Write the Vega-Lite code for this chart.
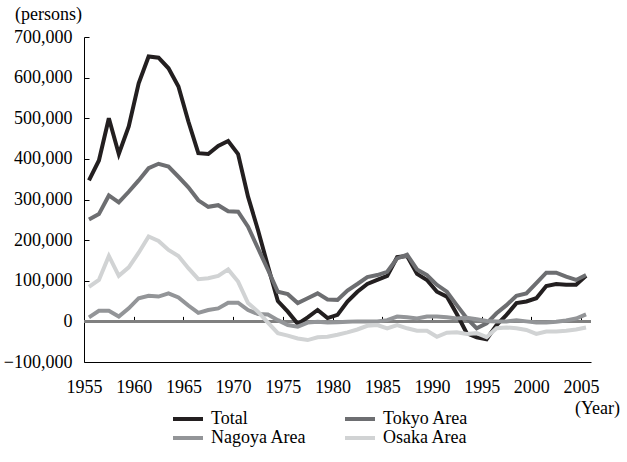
{
  "$schema": "https://vega.github.io/schema/vega-lite/v6.json",
  "width": 507,
  "height": 325,
  "autosize": {"type": "none"},
  "padding": {"left": 84, "top": 37, "right": 36, "bottom": 100},
  "config": {
    "view": {"stroke": null},
    "font": "Liberation Serif, Times New Roman, serif",
    "axis": {"labelFont": "Liberation Serif, Times New Roman, serif", "titleFont": "Liberation Serif, Times New Roman, serif", "labelColor": "#000", "titleColor": "#000", "labelFontSize": 18, "titleFontSize": 18, "titleFontWeight": "normal", "grid": false},
    "legend": {"labelFont": "Liberation Serif, Times New Roman, serif", "labelFontSize": 18, "labelColor": "#000"}
  },
  "data": {"values": [
    {"year":1955,"area":"Total","value":347000},{"year":1956,"area":"Total","value":396000},{"year":1957,"area":"Total","value":500000},{"year":1958,"area":"Total","value":412000},{"year":1959,"area":"Total","value":480000},{"year":1960,"area":"Total","value":586000},{"year":1961,"area":"Total","value":652000},{"year":1962,"area":"Total","value":649000},{"year":1963,"area":"Total","value":623000},{"year":1964,"area":"Total","value":578000},{"year":1965,"area":"Total","value":492000},{"year":1966,"area":"Total","value":414000},{"year":1967,"area":"Total","value":412000},{"year":1968,"area":"Total","value":432000},{"year":1969,"area":"Total","value":444000},{"year":1970,"area":"Total","value":412000},{"year":1971,"area":"Total","value":307000},{"year":1972,"area":"Total","value":225000},{"year":1973,"area":"Total","value":136000},{"year":1974,"area":"Total","value":50000},{"year":1975,"area":"Total","value":24000},{"year":1976,"area":"Total","value":-6000},{"year":1977,"area":"Total","value":10000},{"year":1978,"area":"Total","value":28000},{"year":1979,"area":"Total","value":8000},{"year":1980,"area":"Total","value":16000},{"year":1981,"area":"Total","value":49000},{"year":1982,"area":"Total","value":73000},{"year":1983,"area":"Total","value":92000},{"year":1984,"area":"Total","value":102000},{"year":1985,"area":"Total","value":112000},{"year":1986,"area":"Total","value":158000},{"year":1987,"area":"Total","value":161000},{"year":1988,"area":"Total","value":117000},{"year":1989,"area":"Total","value":102000},{"year":1990,"area":"Total","value":73000},{"year":1991,"area":"Total","value":61000},{"year":1992,"area":"Total","value":18000},{"year":1993,"area":"Total","value":-29000},{"year":1994,"area":"Total","value":-39000},{"year":1995,"area":"Total","value":-44000},{"year":1996,"area":"Total","value":-9000},{"year":1997,"area":"Total","value":16000},{"year":1998,"area":"Total","value":45000},{"year":1999,"area":"Total","value":49000},{"year":2000,"area":"Total","value":57000},{"year":2001,"area":"Total","value":87000},{"year":2002,"area":"Total","value":92000},{"year":2003,"area":"Total","value":90000},{"year":2004,"area":"Total","value":90000},{"year":2005,"area":"Total","value":112000},
    {"year":1955,"area":"Tokyo Area","value":251000},{"year":1956,"area":"Tokyo Area","value":264000},{"year":1957,"area":"Tokyo Area","value":310000},{"year":1958,"area":"Tokyo Area","value":293000},{"year":1959,"area":"Tokyo Area","value":319000},{"year":1960,"area":"Tokyo Area","value":347000},{"year":1961,"area":"Tokyo Area","value":377000},{"year":1962,"area":"Tokyo Area","value":388000},{"year":1963,"area":"Tokyo Area","value":381000},{"year":1964,"area":"Tokyo Area","value":356000},{"year":1965,"area":"Tokyo Area","value":330000},{"year":1966,"area":"Tokyo Area","value":298000},{"year":1967,"area":"Tokyo Area","value":282000},{"year":1968,"area":"Tokyo Area","value":286000},{"year":1969,"area":"Tokyo Area","value":271000},{"year":1970,"area":"Tokyo Area","value":270000},{"year":1971,"area":"Tokyo Area","value":233000},{"year":1972,"area":"Tokyo Area","value":180000},{"year":1973,"area":"Tokyo Area","value":127000},{"year":1974,"area":"Tokyo Area","value":73000},{"year":1975,"area":"Tokyo Area","value":67000},{"year":1976,"area":"Tokyo Area","value":45000},{"year":1977,"area":"Tokyo Area","value":57000},{"year":1978,"area":"Tokyo Area","value":69000},{"year":1979,"area":"Tokyo Area","value":54000},{"year":1980,"area":"Tokyo Area","value":53000},{"year":1981,"area":"Tokyo Area","value":76000},{"year":1982,"area":"Tokyo Area","value":92000},{"year":1983,"area":"Tokyo Area","value":109000},{"year":1984,"area":"Tokyo Area","value":114000},{"year":1985,"area":"Tokyo Area","value":122000},{"year":1986,"area":"Tokyo Area","value":155000},{"year":1987,"area":"Tokyo Area","value":164000},{"year":1988,"area":"Tokyo Area","value":128000},{"year":1989,"area":"Tokyo Area","value":114000},{"year":1990,"area":"Tokyo Area","value":90000},{"year":1991,"area":"Tokyo Area","value":73000},{"year":1992,"area":"Tokyo Area","value":40000},{"year":1993,"area":"Tokyo Area","value":8000},{"year":1994,"area":"Tokyo Area","value":-17000},{"year":1995,"area":"Tokyo Area","value":-5000},{"year":1996,"area":"Tokyo Area","value":20000},{"year":1997,"area":"Tokyo Area","value":40000},{"year":1998,"area":"Tokyo Area","value":63000},{"year":1999,"area":"Tokyo Area","value":69000},{"year":2000,"area":"Tokyo Area","value":94000},{"year":2001,"area":"Tokyo Area","value":120000},{"year":2002,"area":"Tokyo Area","value":120000},{"year":2003,"area":"Tokyo Area","value":110000},{"year":2004,"area":"Tokyo Area","value":102000},{"year":2005,"area":"Tokyo Area","value":114000},
    {"year":1955,"area":"Nagoya Area","value":10000},{"year":1956,"area":"Nagoya Area","value":26000},{"year":1957,"area":"Nagoya Area","value":26000},{"year":1958,"area":"Nagoya Area","value":12000},{"year":1959,"area":"Nagoya Area","value":32000},{"year":1960,"area":"Nagoya Area","value":57000},{"year":1961,"area":"Nagoya Area","value":63000},{"year":1962,"area":"Nagoya Area","value":61000},{"year":1963,"area":"Nagoya Area","value":69000},{"year":1964,"area":"Nagoya Area","value":59000},{"year":1965,"area":"Nagoya Area","value":39000},{"year":1966,"area":"Nagoya Area","value":21000},{"year":1967,"area":"Nagoya Area","value":28000},{"year":1968,"area":"Nagoya Area","value":32000},{"year":1969,"area":"Nagoya Area","value":46000},{"year":1970,"area":"Nagoya Area","value":46000},{"year":1971,"area":"Nagoya Area","value":28000},{"year":1972,"area":"Nagoya Area","value":18000},{"year":1973,"area":"Nagoya Area","value":17000},{"year":1974,"area":"Nagoya Area","value":3000},{"year":1975,"area":"Nagoya Area","value":-9000},{"year":1976,"area":"Nagoya Area","value":-13000},{"year":1977,"area":"Nagoya Area","value":-3000},{"year":1978,"area":"Nagoya Area","value":-1000},{"year":1979,"area":"Nagoya Area","value":-3000},{"year":1980,"area":"Nagoya Area","value":-2000},{"year":1981,"area":"Nagoya Area","value":-1000},{"year":1982,"area":"Nagoya Area","value":0},{"year":1983,"area":"Nagoya Area","value":0},{"year":1984,"area":"Nagoya Area","value":0},{"year":1985,"area":"Nagoya Area","value":3000},{"year":1986,"area":"Nagoya Area","value":12000},{"year":1987,"area":"Nagoya Area","value":10000},{"year":1988,"area":"Nagoya Area","value":7000},{"year":1989,"area":"Nagoya Area","value":12000},{"year":1990,"area":"Nagoya Area","value":12000},{"year":1991,"area":"Nagoya Area","value":10000},{"year":1992,"area":"Nagoya Area","value":7000},{"year":1993,"area":"Nagoya Area","value":9000},{"year":1994,"area":"Nagoya Area","value":5000},{"year":1995,"area":"Nagoya Area","value":1000},{"year":1996,"area":"Nagoya Area","value":0},{"year":1997,"area":"Nagoya Area","value":0},{"year":1998,"area":"Nagoya Area","value":3000},{"year":1999,"area":"Nagoya Area","value":0},{"year":2000,"area":"Nagoya Area","value":-3000},{"year":2001,"area":"Nagoya Area","value":-3000},{"year":2002,"area":"Nagoya Area","value":-1000},{"year":2003,"area":"Nagoya Area","value":2000},{"year":2004,"area":"Nagoya Area","value":7000},{"year":2005,"area":"Nagoya Area","value":17000},
    {"year":1955,"area":"Osaka Area","value":85000},{"year":1956,"area":"Osaka Area","value":102000},{"year":1957,"area":"Osaka Area","value":161000},{"year":1958,"area":"Osaka Area","value":112000},{"year":1959,"area":"Osaka Area","value":133000},{"year":1960,"area":"Osaka Area","value":169000},{"year":1961,"area":"Osaka Area","value":209000},{"year":1962,"area":"Osaka Area","value":198000},{"year":1963,"area":"Osaka Area","value":176000},{"year":1964,"area":"Osaka Area","value":161000},{"year":1965,"area":"Osaka Area","value":131000},{"year":1966,"area":"Osaka Area","value":104000},{"year":1967,"area":"Osaka Area","value":106000},{"year":1968,"area":"Osaka Area","value":112000},{"year":1969,"area":"Osaka Area","value":128000},{"year":1970,"area":"Osaka Area","value":98000},{"year":1971,"area":"Osaka Area","value":45000},{"year":1972,"area":"Osaka Area","value":24000},{"year":1973,"area":"Osaka Area","value":-3000},{"year":1974,"area":"Osaka Area","value":-29000},{"year":1975,"area":"Osaka Area","value":-35000},{"year":1976,"area":"Osaka Area","value":-42000},{"year":1977,"area":"Osaka Area","value":-46000},{"year":1978,"area":"Osaka Area","value":-39000},{"year":1979,"area":"Osaka Area","value":-38000},{"year":1980,"area":"Osaka Area","value":-33000},{"year":1981,"area":"Osaka Area","value":-27000},{"year":1982,"area":"Osaka Area","value":-20000},{"year":1983,"area":"Osaka Area","value":-11000},{"year":1984,"area":"Osaka Area","value":-9000},{"year":1985,"area":"Osaka Area","value":-17000},{"year":1986,"area":"Osaka Area","value":-9000},{"year":1987,"area":"Osaka Area","value":-17000},{"year":1988,"area":"Osaka Area","value":-23000},{"year":1989,"area":"Osaka Area","value":-23000},{"year":1990,"area":"Osaka Area","value":-38000},{"year":1991,"area":"Osaka Area","value":-28000},{"year":1992,"area":"Osaka Area","value":-27000},{"year":1993,"area":"Osaka Area","value":-31000},{"year":1994,"area":"Osaka Area","value":-29000},{"year":1995,"area":"Osaka Area","value":-39000},{"year":1996,"area":"Osaka Area","value":-17000},{"year":1997,"area":"Osaka Area","value":-15000},{"year":1998,"area":"Osaka Area","value":-17000},{"year":1999,"area":"Osaka Area","value":-21000},{"year":2000,"area":"Osaka Area","value":-31000},{"year":2001,"area":"Osaka Area","value":-25000},{"year":2002,"area":"Osaka Area","value":-25000},{"year":2003,"area":"Osaka Area","value":-23000},{"year":2004,"area":"Osaka Area","value":-20000},{"year":2005,"area":"Osaka Area","value":-15000}
  ]},
  "resolve": {"axis": {"x": "independent"}},
  "layer": [
    {
      "mark": {"type": "rule", "color": "#808080", "strokeWidth": 1.5},
      "encoding": {
        "x": {"datum": 1954.5, "type": "quantitative", "scale": {"domain": [1954.5, 2005.5], "nice": false, "zero": false},
          "axis": {"orient": "top", "offset": -284.375, "domain": false, "labels": false, "ticks": true, "tickSize": 5, "tickColor": "#000", "tickWidth": 1, "title": null, "values": [1959.5, 1964.5, 1969.5, 1974.5, 1979.5, 1984.5, 1989.5, 1994.5, 1999.5, 2004.5]}},
        "x2": {"datum": 2005.5},
        "y": {"datum": 0, "type": "quantitative", "scale": {"domain": [-100000, 700000], "nice": false, "zero": false},
          "axis": {"values": [-100000, 0, 100000, 200000, 300000, 400000, 500000, 600000, 700000], "format": ",d", "domainColor": "#000", "domainWidth": 1, "tickColor": "#000", "tickSize": -5, "labelPadding": 17, "labelFlush": false, "labelOverlap": false, "title": "(persons)", "titleAngle": 0, "titleAlign": "center", "titleBaseline": "middle", "titleX": -36, "titleY": -23}}
      }
    },
    {
      "mark": {"type": "line", "strokeWidth": 4},
      "encoding": {
        "x": {"field": "year", "type": "quantitative", "scale": {"domain": [1954.5, 2005.5], "nice": false, "zero": false},
          "axis": {"orient": "bottom", "values": [1954.5, 1959.5, 1964.5, 1969.5, 1974.5, 1979.5, 1984.5, 1989.5, 1994.5, 1999.5, 2004.5], "labelExpr": "format(datum.value + 0.5, 'd')", "ticks": false, "domainColor": "#000", "domainWidth": 1, "labelFlush": false, "labelOverlap": false, "labelPadding": 16, "title": "(Year)", "titleAnchor": "end", "titleAlign": "center", "titleX": 513, "titleY": 46, "titleBaseline": "middle"}},
        "y": {"field": "value", "type": "quantitative", "scale": {"domain": [-100000, 700000], "nice": false, "zero": false},
          "axis": {"values": [-100000, 0, 100000, 200000, 300000, 400000, 500000, 600000, 700000], "format": ",d", "domainColor": "#000", "domainWidth": 1, "tickColor": "#000", "tickSize": -5, "labelPadding": 17, "labelFlush": false, "labelOverlap": false, "title": "(persons)", "titleAngle": 0, "titleAlign": "center", "titleBaseline": "middle", "titleX": -36, "titleY": -23}},
        "color": {"field": "area", "type": "nominal", "sort": ["Total", "Tokyo Area", "Nagoya Area", "Osaka Area"],
          "scale": {"domain": ["Total", "Tokyo Area", "Nagoya Area", "Osaka Area"], "range": ["#231f20", "#6d6e71", "#939598", "#d1d3d4"]},
          "legend": {"orient": "none", "direction": "horizontal", "legendX": 95, "legendY": 373, "columns": 2, "columnPadding": 30, "rowPadding": 1, "symbolType": "M-3,0H3", "symbolSize": 100, "symbolStrokeWidth": 4, "labelOffset": 14, "title": null}}
      }
    }
  ]
}
